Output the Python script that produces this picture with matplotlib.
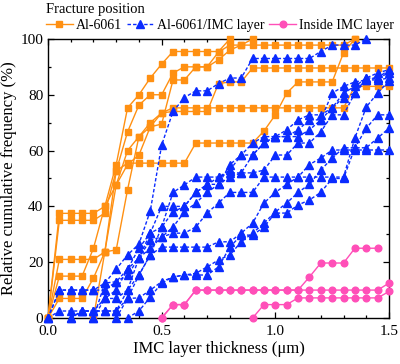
import matplotlib
matplotlib.use("Agg")
import matplotlib.pyplot as plt
from matplotlib.ticker import MultipleLocator

plt.rcParams['font.family'] = ['Liberation Serif', 'DejaVu Serif']

step = 0.05

# Al-6061 curves: (first x, cumulative frequency values every 0.05 um)
al_a = (0.0, [0, 37.5, 37.5, 37.5, 37.5, 40, 55, 75.3, 80, 86, 91, 95.5, 95.5, 95.5, 95.5, 95.5, 100])
al_b = (0.0, [0, 35, 35, 35, 35, 37.6, 52.7, 66.7, 76.3, 80, 80, 87.8, 90, 90, 90, 92.5, 96, 97.8, 100])
al_c = (0.0, [0, 21, 21, 21, 21, 23.7, 47.7, 60, 65, 68.5, 69.5, 85.3, 85.3, 90, 90, 95.3,
              97.8, 97.8, 97.8, 97.8, 97.8, 97.8, 97.8, 97.8, 97.8, 97.8, 97.8, 100])
al_d = (0.0, [0, 15, 15, 15, 25, 40, 47.7, 55, 58.4, 68.5, 73.5, 74, 74, 74, 74, 84, 84.6, 84.6,
              89.6, 89.6, 89.6, 89.6, 89.6, 89.6, 89.6, 89.6, 89.6, 89.6, 89.6, 89.6, 89.6])
al_e = (0.0, [0, 7, 7, 7, 14.3, 23.7, 24.4, 46, 65, 70, 73.5, 75.3, 75.3, 75.3, 75.3, 75.3, 75.3,
              75.3, 75.3, 75.3, 75.3, 75.3, 75.3, 75.3, 75.3, 75.3, 75.3, 83, 83, 83, 83])
al_f = (0.2, [0, 23.7, 52.7, 55.5, 55.5, 55.5, 55.5, 55.5, 55.5, 62.7, 62.7, 62.7, 62.7, 62.7,
              62.7, 67, 72.8, 80.6, 84.6, 84.6, 84.6, 84.6, 95, 100])
al_6061 = [al_a, al_b, al_c, al_d, al_e, al_f]

# Al-6061/IMC layer interface curves
bl_1 = (0.0, [0, 10, 10, 10, 10, 12.5, 17.5, 22.6, 26.5, 38.4, 62, 74, 79, 81.4, 81.4, 84, 86, 86,
              93, 93, 93, 93, 93, 93, 95.5, 97.8, 97.8, 97.8, 100])
bl_2 = (0.0, [0, 2.5, 2.5, 2.5, 2.5, 2.5, 2.5, 7, 15.4, 22.6, 32.6, 45, 47.7, 50.5, 50.5, 50.5,
              52, 52, 58.4, 62.7, 65, 65, 65, 67.4, 71, 80.6, 83, 84.6, 85.3, 86, 89])
bl_3 = (0.1, [0, 2.5, 2.5, 7, 10, 17.5, 21.5, 30.4, 40, 40, 40, 45, 47.9, 47.9, 50.5, 52, 52, 53,
              58.4, 58.4, 62.7, 62.7, 66.7, 72.8, 72.8, 80.6, 86, 86, 87.8])
bl_4 = (0.0, [0, 10, 10, 10, 10, 10, 13, 15.4, 21.5, 28, 29, 30.4, 30.4, 32.6, 37.6, 41.2, 45, 45,
              45, 50.5, 50.5, 50.5, 50.5, 50.5, 50.5, 50.5, 50.5, 64.5, 75.6, 80.6, 85])
bl_5 = (0.2, [0, 7, 7, 10, 15.4, 22.6, 25.4, 25.4, 25.4, 25.4, 25.4, 27.3, 27.3, 30.4, 34, 41.2,
              45, 47.9, 50.5, 55, 57.3, 60.2, 60.2, 60.2, 60.2, 60.2, 60.2])
bl_6 = (0.3, [0, 7, 7.2, 10, 13, 14.7, 15.4, 16, 18.3, 20.8, 22.6, 27.3, 30.4, 34, 38, 41.2, 45,
              47.9, 53, 57.3, 61, 61, 61, 64.5, 68])
bl_7 = (0.35, [0, 2.5, 7.5, 12.5, 14.7, 15.4, 15.4, 15.4, 18.3, 25.4, 29.7, 29.7, 32.6, 37.6,
               37.6, 40.5, 42.3, 45, 50, 50, 61, 68, 72.8, 72.8])
bl_8 = (0.2, [0, 12.5, 13, 17.5, 25, 30.4, 32.6, 38, 40, 45, 47.7, 50.5, 53, 58.4, 58.4, 62.7,
              65, 67.4, 71, 72.8, 72.8, 75.3, 80.6, 83, 86, 87.8, 89])
bl_9 = (0.1, [0, 2.5, 2.5, 2.5, 2.5, 10, 21.5, 25, 29, 32.6, 38, 41.2, 45, 47.9, 55, 58.4, 62.7,
              65, 65, 65, 67.4, 71, 71, 75.3, 79, 80.6, 85.3, 85.3, 86])
al_imc = [bl_1, bl_2, bl_3, bl_4, bl_5, bl_6, bl_7, bl_8, bl_9]

# Inside IMC layer curves
pk_1 = (0.5, [0, 4.8, 4.8, 10, 10, 10, 10, 10, 10, 10, 10, 10, 10, 10, 10, 10, 10, 10, 10, 10, 12.5])
pk_2 = (0.9, [0, 4.8, 4.8, 4.8, 7.2, 7.2, 7.2, 7.2, 7.2, 7.2, 7.2, 7.2, 9.5])
pk_3 = (0.5, [0, 4.8, 4.8, 10, 10, 10, 10, 10, 10, 10, 10, 10, 10, 14.7, 19.7, 19.7, 19.7,
              25, 25, 25])
inside_imc = [pk_1, pk_2, pk_3]

c_orange = '#FF9012'
c_blue = '#0A2BFF'
c_pink = '#FF4FB8'


def xs_of(curve):
    x0, vals = curve
    return [x0 + step * i for i in range(len(vals))]


fig = plt.figure(figsize=(4.0, 3.64), dpi=100)
ax = fig.add_axes([0.12, 0.1264, 0.8525, 0.7666])

for k, c in enumerate(al_6061):
    ax.plot(xs_of(c), c[1], '-s', color=c_orange, lw=1.0, ms=4.8, clip_on=False,
            label='Al-6061' if k == 0 else None, zorder=3)
for k, c in enumerate(al_imc):
    ax.plot(xs_of(c), c[1], '--^', color=c_blue, lw=1.0, ms=5.3, clip_on=False,
            dashes=(2.5, 1.5), label='Al-6061/IMC layer' if k == 0 else None, zorder=4)
for k, c in enumerate(inside_imc):
    ax.plot(xs_of(c), c[1], '-o', color=c_pink, lw=1.0, ms=4.8, clip_on=False,
            label='Inside IMC layer' if k == 0 else None, zorder=5)

ax.set_xlim(0, 1.5)
ax.set_ylim(0, 100)
ax.xaxis.set_major_locator(MultipleLocator(0.5))
ax.xaxis.set_minor_locator(MultipleLocator(0.1))
ax.yaxis.set_major_locator(MultipleLocator(20))
ax.yaxis.set_minor_locator(MultipleLocator(10))
ax.xaxis.set_major_formatter(plt.FuncFormatter(lambda v, p: '%.1f' % v))
ax.tick_params(which='both', direction='in', top=True, right=True, labelsize=11, width=0.9)
ax.tick_params(which='major', length=4.5)
ax.tick_params(which='minor', length=2.5)
ax.tick_params(axis='x', pad=5)
for s in ax.spines.values():
    s.set_linewidth(1.0)

ax.set_xlabel('IMC layer thickness (μm)', fontsize=12, labelpad=2)
ax.set_ylabel('Relative cumulative frequency (%)', fontsize=12, labelpad=2)

leg = ax.legend(loc='lower left', bbox_to_anchor=(-0.005, 1.025), ncol=3, frameon=False,
                title='Fracture position', alignment='left', fontsize=10, title_fontsize=10.5,
                handlelength=1.9, handletextpad=0.25, columnspacing=0.35, borderaxespad=0.0,
                borderpad=0.0, labelspacing=0.2)

fig.savefig('out.png', dpi=100)
